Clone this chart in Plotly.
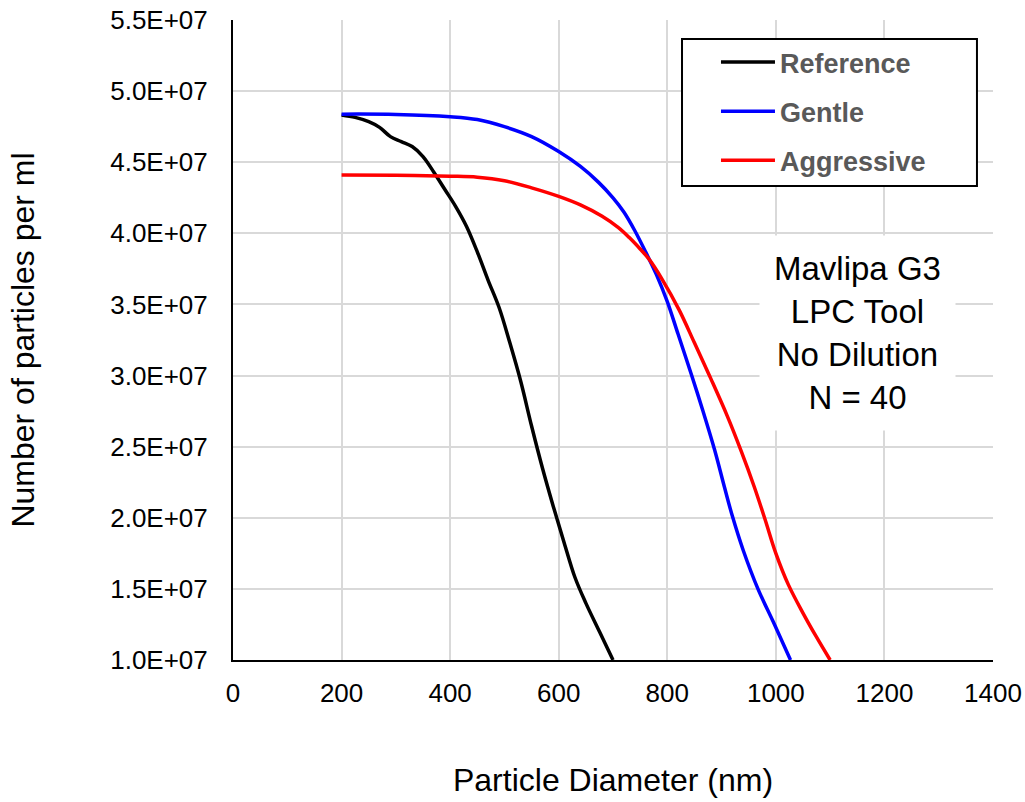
import plotly.graph_objects as go

# ---- data ----
ref_x = [200, 225, 250, 270, 290, 310, 330, 350, 370, 390, 410, 430, 450, 470, 490, 510, 530, 550, 570,
         590, 610, 630, 650, 675, 700]
ref_y = [4.832e7, 4.815e7, 4.785e7, 4.745e7, 4.68e7, 4.645e7, 4.61e7, 4.54e7, 4.43e7, 4.31e7, 4.19e7,
         4.05e7, 3.87e7, 3.67e7, 3.48e7, 3.23e7, 2.96e7, 2.645e7, 2.35e7, 2.08e7, 1.825e7, 1.58e7,
         1.40e7, 1.20e7, 1.0e7]

gentle_x = [200, 300, 400, 450, 500, 550, 600, 640, 673, 700, 720, 740, 760, 780, 800, 820, 845, 865,
            887, 905, 920, 940, 967, 995, 1027]
gentle_y = [4.838e7, 4.836e7, 4.82e7, 4.80e7, 4.75e7, 4.68e7, 4.575e7, 4.47e7, 4.36e7, 4.25e7, 4.15e7,
            4.02e7, 3.87e7, 3.71e7, 3.52e7, 3.29e7, 3.0e7, 2.76e7, 2.48e7, 2.22e7, 2.01e7, 1.77e7,
            1.50e7, 1.27e7, 1.0e7]

aggr_x = [200, 300, 400, 450, 500, 550, 600, 640, 680, 710, 730, 750, 766, 790, 822, 850, 880, 910, 936,
          960, 980, 1000, 1023, 1050, 1075, 1100]
aggr_y = [4.411e7, 4.408e7, 4.402e7, 4.395e7, 4.37e7, 4.32e7, 4.26e7, 4.20e7, 4.12e7, 4.04e7, 3.97e7,
          3.89e7, 3.82e7, 3.68e7, 3.46e7, 3.23e7, 2.98e7, 2.72e7, 2.47e7, 2.22e7, 1.99e7, 1.75e7, 1.53e7,
          1.33e7, 1.16e7, 1.0e7]

y_tickvals = [1.0e7, 1.5e7, 2.0e7, 2.5e7, 3.0e7, 3.5e7, 4.0e7, 4.5e7, 5.0e7, 5.5e7]
y_ticktext = ["1.0E+07", "1.5E+07", "2.0E+07", "2.5E+07", "3.0E+07", "3.5E+07",
              "4.0E+07", "4.5E+07", "5.0E+07", "5.5E+07"]
x_tickvals = [0, 200, 400, 600, 800, 1000, 1200, 1400]

FONT = "Liberation Sans, Arial, sans-serif"

fig = go.Figure()
series = [("Reference", ref_x, ref_y, "#000000"),
          ("Gentle", gentle_x, gentle_y, "#0000ff"),
          ("Aggressive", aggr_x, aggr_y, "#ff0000")]
for name, xs, ys, col in series:
    fig.add_trace(go.Scatter(x=xs, y=ys, mode="lines", name=name, legendgroup=name,
                             line=dict(color=col, width=3.5, shape="spline", smoothing=1.0)))

fig.update_layout(
    width=1025, height=802,
    margin=dict(l=233, r=32, t=20, b=142),
    paper_bgcolor="white", plot_bgcolor="white",
    font=dict(family=FONT, color="black"),
    legend=dict(x=0.6355, y=0.9719, xanchor="left", yanchor="top",
                bgcolor="rgba(0,0,0,0)", borderwidth=0,
                font=dict(family=FONT, size=27, color="#595959", weight="bold"),
                traceorder="grouped", tracegroupgap=11, itemwidth=54),
    shapes=[dict(type="rect", xref="paper", yref="paper", x0=0.5908, x1=0.9789, y0=0.7406, y1=0.9703,
                 line=dict(color="black", width=2), fillcolor="white", layer="above")],
    annotations=[dict(x=1150, y=3.3e7, xref="x", yref="y", showarrow=False,
                      text="Mavlipa G3<br>LPC Tool<br>No Dilution<br>N = 40",
                      font=dict(family=FONT, size=33, color="black"),
                      bgcolor="white", borderpad=14)],
)
fig.update_xaxes(range=[0, 1400], tickvals=x_tickvals, showgrid=True, gridcolor="#d9d9d9", gridwidth=2,
                 showline=True, linecolor="black", linewidth=2, zeroline=False, automargin=False,
                 tickfont=dict(family=FONT, size=26, color="black"), ticklabelstandoff=9,
                 ticklabeloverflow="allow",
                 title=dict(text="Particle Diameter (nm)", font=dict(family=FONT, size=32, color="black"),
                            standoff=61))
fig.update_yaxes(range=[1.0e7, 5.5e7], tickvals=y_tickvals, ticktext=y_ticktext, showgrid=True,
                 gridcolor="#d9d9d9", gridwidth=2, showline=True, linecolor="black", linewidth=2,
                 zeroline=False, automargin=False, tickfont=dict(family=FONT, size=26, color="black"),
                 ticklabelstandoff=18, ticklabeloverflow="allow",
                 title=dict(text="Number of particles per ml", font=dict(family=FONT, size=32, color="black"),
                            standoff=66))

fig.write_html("out.html", config={"displayModeBar": False},
               post_script="document.body.style.margin='0';")
